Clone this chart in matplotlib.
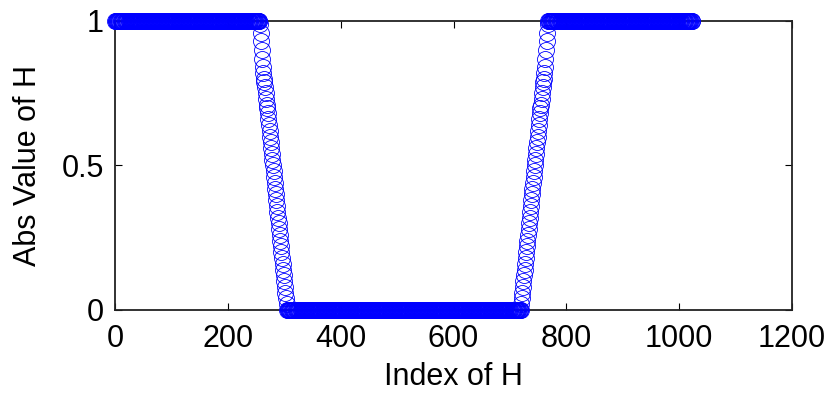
import numpy as np
import matplotlib.pyplot as plt

plt.rcParams['font.family'] = ['Liberation Sans', 'DejaVu Sans']

# magnitude samples of H (1024-point frequency sampling design)
pass_len = 257
stop_len = 415
pass2_len = 256

fall = [0.99, 0.96, 0.93, 0.90, 0.87, 0.84, 0.82, 0.80, 0.79, 0.77,
        0.75, 0.73, 0.71, 0.70, 0.68, 0.66, 0.64, 0.62, 0.60, 0.58,
        0.56, 0.54, 0.52, 0.50, 0.48, 0.46, 0.44, 0.42, 0.40, 0.38,
        0.36, 0.34, 0.32, 0.30, 0.28, 0.26, 0.24, 0.22, 0.20, 0.18,
        0.16, 0.14, 0.12, 0.10, 0.08, 0.06, 0.04, 0.02]
rise = [0.02, 0.04, 0.06, 0.08, 0.10, 0.12, 0.14, 0.16, 0.18, 0.20,
        0.22, 0.24, 0.26, 0.28, 0.30, 0.32, 0.34, 0.36, 0.38, 0.40,
        0.42, 0.44, 0.46, 0.48, 0.50, 0.52, 0.54, 0.56, 0.58, 0.60,
        0.62, 0.64, 0.66, 0.68, 0.70, 0.71, 0.73, 0.75, 0.77, 0.79,
        0.80, 0.82, 0.84, 0.87, 0.90, 0.93, 0.96, 0.99]

H = np.concatenate([np.ones(pass_len), fall, np.zeros(stop_len),
                    rise, np.ones(pass2_len)])
k = np.arange(len(H))

fig = plt.figure(figsize=(8.29, 3.96), dpi=100)
ax = fig.add_axes([0.1387, 0.2172, 0.8167, 0.7298])

# circles are not clipped at the box edges
ax.plot(k, H, 'o', color='blue', markerfacecolor='none',
        markersize=11.5, markeredgewidth=0.6, clip_on=False, zorder=3)

ax.set_xlim(0, 1200)
ax.set_ylim(0, 1)
ax.set_xticks(range(0, 1201, 200))
ax.set_yticks([0, 0.5, 1])
ax.set_yticklabels(['0', '0.5', '1'])

ax.tick_params(direction='in', top=True, right=True, length=5,
               width=0.8, labelsize=22)
ax.tick_params(axis='x', pad=10)
ax.tick_params(axis='y', pad=8)
for s in ax.spines.values():
    s.set_linewidth(1.3)
    s.set_color('#222222')

ax.set_xlabel('Index of H', fontsize=22, labelpad=6)
ax.set_ylabel('Abs Value of H', fontsize=22, labelpad=13)

fig.savefig('out.png', dpi=100)
